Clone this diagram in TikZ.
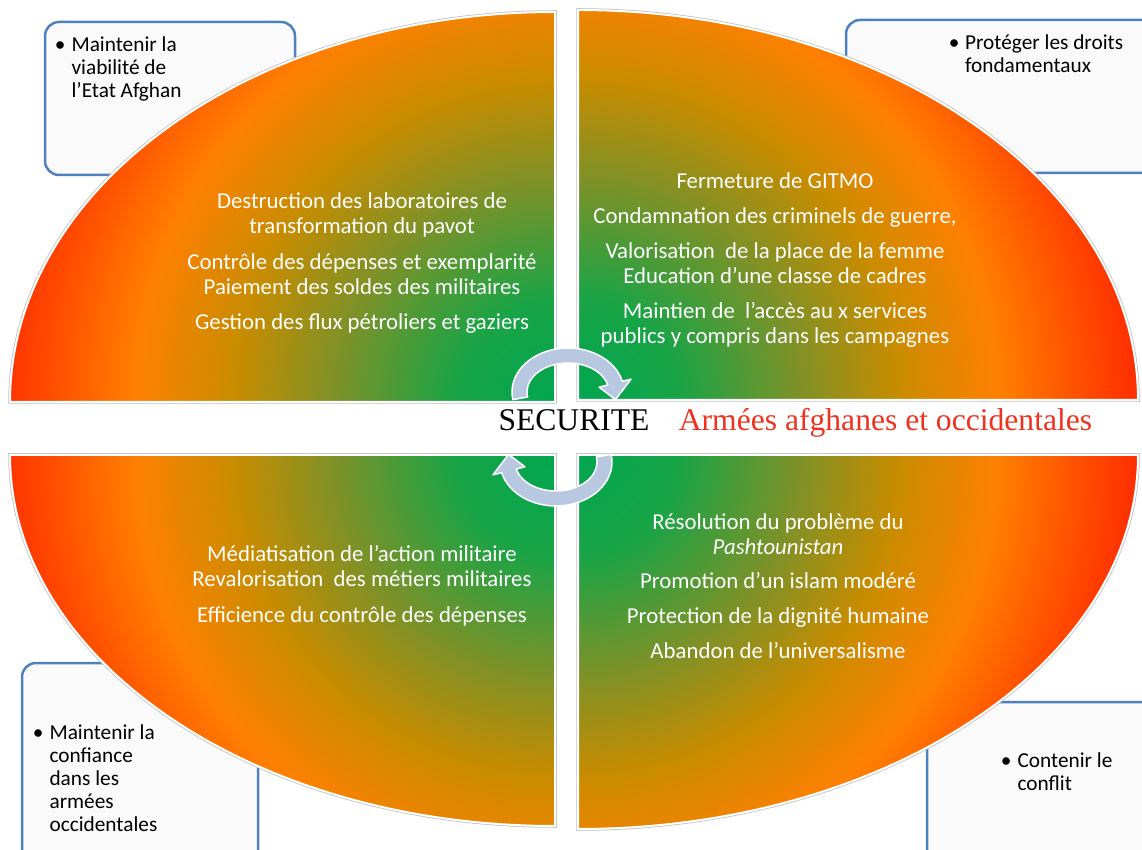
\documentclass[tikz,border=0pt]{standalone}
\usepackage{fontspec}
\setmainfont{Carlito}
\newfontfamily\titlefont{Liberation Serif}
\usepackage{tikz}
\usetikzlibrary{positioning}
\definecolor{qgreen}{RGB}{0,166,80}
\definecolor{qlime}{RGB}{25,164,70}
\definecolor{qolive}{RGB}{125,145,40}
\definecolor{qamber}{RGB}{200,140,0}
\definecolor{qorange}{RGB}{255,128,0}
\definecolor{qflame}{RGB}{255,80,0}
\definecolor{qred}{RGB}{255,45,0}
\definecolor{boxblue}{RGB}{79,129,189}
\definecolor{boxfill}{RGB}{250,250,250}
\definecolor{arrowfill}{RGB}{185,200,225}
\definecolor{titlered}{RGB}{238,50,30}
% the middle 25bp of the shading is stretched over the radius
\pgfdeclareradialshading{quadglow}{\pgfpoint{0bp}{0bp}}{color(0bp)=(qgreen); color(4.5bp)=(qlime);
  color(9.8bp)=(qolive); color(14.3bp)=(qamber); color(18.75bp)=(qorange); color(22.3bp)=(qflame);
  color(25bp)=(qred); color(50bp)=(qred)}
\tikzstyle{callout}=[draw=boxblue,fill=boxfill,line width=2.5pt,rounded corners=14pt]
\tikzstyle{bullet text}=[anchor=north west,inner sep=0pt,font=\fontsize{21.3}{23}\selectfont]
\tikzstyle{quad text}=[white,align=center,inner sep=0pt,font=\fontsize{22.8}{25}\selectfont]
\tikzstyle{quad shadow}=[draw=black!25,line width=3.5pt]
\tikzstyle{quad edge}=[draw=white,line width=2pt]
\tikzstyle{cycle arrow}=[fill=arrowfill,draw=white,line width=1.5pt,line join=round]
\newcommand{\bulletlines}[2]
{  % #1 = gap after bullet, #2 = lines
  \begin{tabular}[t]{@{}l@{\hspace{#1}}l@{}}\textbullet & \begin{tabular}[t]{@{}l@{}}#2\end{tabular}\end{tabular}%
}
\newcommand{\quadrant}[5]
{  % #1 = corner, #2 = start angle, #3 = end angle, #4 = x radius, #5 = y radius
  \draw[quad shadow] (#1) -- ++(#2:#4 and #5) arc[start angle=#2,end angle=#3,x radius=#4,y radius=#5] -- cycle;
  \begin{scope}
  \clip (#1) -- ++(#2:#4 and #5) arc[start angle=#2,end angle=#3,x radius=#4,y radius=#5] -- cycle;
  \shade[shading=quadglow] (#1) circle (560);
  \end{scope}
  \draw[quad edge] (#1) -- ++(#2:#4 and #5) arc[start angle=#2,end angle=#3,x radius=#4,y radius=#5] -- cycle;
}
\newcommand{\cyclearrow}[2]
{  % #1 = centre, #2 = rotation angle
  \begin{scope}[shift={(#1)},rotate=#2]
  \draw[cycle arrow] (190:56 and 44) arc[start angle=190,end angle=14,x radius=56,y radius=44]
    -- (14:65 and 53) -- (-12:48.5 and 36.5) -- (14:32 and 20)
    -- (14:41 and 29) arc[start angle=14,end angle=190,x radius=41,y radius=29] -- cycle;
  \end{scope}
}

\begin{document}
\begin{tikzpicture}[x=1pt,y=1pt]
  \useasboundingbox (0,0) rectangle (1142,849);
  \clip (0,0) rectangle (1142,849);
  % callouts behind the ellipse
  \node[callout,minimum width=250,minimum height=153] (tlbox) at (170,750.5) {};
  \node[callout,minimum width=316,minimum height=153] (trbox) at (1004,752.5) {};
  \node[callout,minimum width=236,minimum height=208] (blbox) at (140,82) {};
  \node[callout,minimum width=235,minimum height=169] (brbox) at (1044.5,62.5) {};
  \node[bullet text] (tlnote) at ([shift={(11,-14)}]tlbox.north west) {\bulletlines{6pt}{Maintenir la\\viabilité de\\l’Etat Afghan}};
  \node[bullet text] (trnote) at ([shift={(104,-14)}]trbox.north west) {\bulletlines{5.5pt}{Protéger les droits\\fondamentaux}};
  \node[bullet text] (blnote) at ([shift={(12,-61)}]blbox.north west) {\bulletlines{6pt}{Maintenir la\\confiance\\dans les\\armées\\occidentales}};
  \node[bullet text] (brnote) at ([shift={(75,-50)}]brbox.north west) {\bulletlines{6pt}{Contenir le\\conflit}};
  % the four quarters
  \quadrant{555,447}{180}{90}{545}{390}
  \quadrant{578,449}{90}{0}{560}{390}
  \quadrant{555,394}{180}{270}{545}{371}
  \quadrant{578,394}{270}{360}{560}{374}
  \node[quad text] (tlquad) at (362,585.5) {Destruction des laboratoires de\\transformation du pavot\\[11pt]
    Contrôle des dépenses et exemplarité\\Paiement des soldes des militaires\\[10pt]Gestion des flux pétroliers et gaziers};
  \node[quad text] (trquad) at (775,588.5) {Fermeture de GITMO\\[10pt]Condamnation des criminels de guerre,\\[10pt]
    Valorisation\ \ de la place de la femme\\Education d’une classe de cadres\\[10pt]
    Maintien de\ \ l’accès au x services\\publics y compris dans les campagnes};
  \node[quad text] (blquad) at (362,263.5) {Médiatisation de l’action militaire\\Revalorisation\ \ des métiers militaires\\[11pt]
    Efficience du contrôle des dépenses};
  \node[quad text] (brquad) at (778,262.5) {Résolution du problème du\\\textit{Pashtounistan}\\[9pt]
    Promotion d’un islam modéré\\[10pt]Protection de la dignité humaine\\[10pt]Abandon de l’universalisme};
  \cyclearrow{568,457}{0}
  \cyclearrow{556,387}{180}
  \node[anchor=base,inner sep=0pt,font=\titlefont\fontsize{31.6}{36}\selectfont] (secu) at (574,418) {SECURITE};
  \node[base right=29pt of secu,inner sep=0pt,titlered,font=\titlefont\fontsize{31.6}{36}\selectfont] (armies) {Armées afghanes et occidentales};
\end{tikzpicture}
\end{document}
